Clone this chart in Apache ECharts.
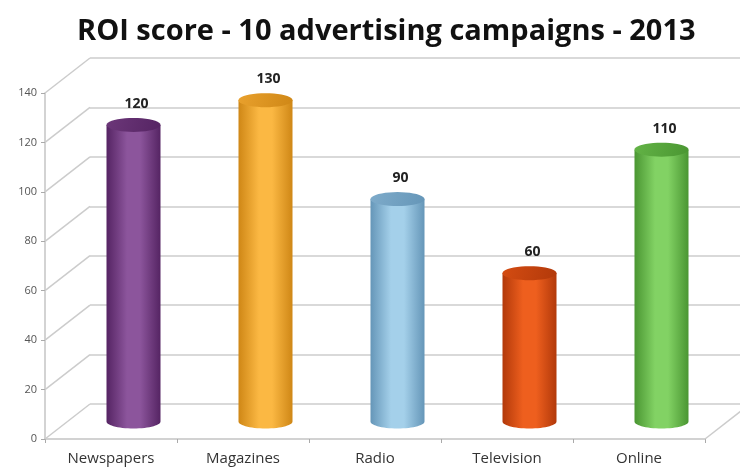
<!DOCTYPE html>
<html>
<head>
<meta charset="utf-8">
<script src="https://cdn.jsdelivr.net/npm/echarts@6/dist/echarts.min.js"></script>
<style>
  html, body { margin: 0; padding: 0; background: #fff; }
  #main { width: 740px; height: 468px; }
</style>
</head>
<body>
<div id="main"></div>
<script>
// data
var categories = ['Newspapers', 'Magazines', 'Radio', 'Television', 'Online'];
var scores = [120, 130, 90, 60, 110];
var yTicks = [0, 20, 40, 60, 80, 100, 120, 140];

// cylinder colours: [dark edge, light centre, top]
var barColors = [
  ['#552463', '#8c559c', '#6c3779'],
  ['#cf8716', '#fbb843', '#e9a12d'],
  ['#6596b8', '#a4d0ea', '#7eabca'],
  ['#b2390a', '#ee5f1e', '#d44c12'],
  ['#4a9632', '#82d264', '#63b346']
];

// 3d depth of the box (pixels)
var DX = 45, DY = 35;

var chart = echarts.init(document.getElementById('main'));

function ellipsePts(cx, cy, rx, ry, from, to, n) {
  var pts = [];
  for (var i = 0; i <= n; i++) {
    var a = from + (to - from) * i / n;
    pts.push([cx + rx * Math.cos(a), cy + ry * Math.sin(a)]);
  }
  return pts;
}

// edges: [category index, value, side (-1 left, 1 right)]
var edges = yTicks.map(function (v) { return [0, v, -1]; })
  .concat([[categories.length - 1, 0, 1]]);

var option = {
  backgroundColor: '#fff',
  animation: false,
  title: {
    text: 'ROI score - 10 advertising campaigns - 2013',
    left: 72,
    top: 12,
    textStyle: { fontFamily: 'Open Sans', fontSize: 29, fontWeight: 'bold', color: '#111' }
  },
  grid: [
    { left: 45, right: 35, top: 93, bottom: 29 },
    { left: 45 + DX, right: 0, top: 93 - DY, bottom: 29 + DY }
  ],
  xAxis: [
    {
      type: 'category', gridIndex: 0, data: categories,
      axisLine: { lineStyle: { color: '#c4c4c4', width: 1.5 } },
      axisTick: { show: true, length: 4, lineStyle: { color: '#aaa' } },
      axisLabel: { fontFamily: 'Open Sans', fontSize: 15, color: '#333', margin: 12 }
    },
    { type: 'category', gridIndex: 1, data: categories, show: false }
  ],
  yAxis: [
    {
      type: 'value', gridIndex: 0, min: 0, max: 140, interval: 20,
      axisLine: { show: true, lineStyle: { color: '#c4c4c4', width: 1.5 } },
      axisTick: { show: true, length: 4, lineStyle: { color: '#aaa' } },
      splitLine: { show: false },
      axisLabel: { fontFamily: 'Open Sans', fontSize: 11, color: '#555', margin: 8 }
    },
    {
      type: 'value', gridIndex: 1, min: 0, max: 140, interval: 20,
      axisLine: { show: false }, axisTick: { show: false }, axisLabel: { show: false },
      splitLine: { show: true, lineStyle: { color: '#cccccc', width: 1.5 } }
    }
  ],
  series: [
    {
      // diagonal edges from the front axes to the back wall
      type: 'custom', xAxisIndex: 0, yAxisIndex: 0, silent: true, z: 1,
      data: edges,
      dimensions: ['cat', 'val', 'side'],
      encode: { x: 0, y: 1 },
      renderItem: function (params, api) {
        var p = api.coord([api.value(0), api.value(1)]);
        var half = api.size([1, 0])[0] / 2;
        var x = p[0] + api.value(2) * half;
        return {
          type: 'line',
          shape: { x1: x, y1: p[1], x2: x + DX, y2: p[1] - DY },
          style: { stroke: '#cccccc', lineWidth: 1.5 }
        };
      }
    },
    {
      // cylinders
      type: 'custom', xAxisIndex: 0, yAxisIndex: 0, z: 5,
      data: scores.map(function (v, i) { return [i, v]; }),
      encode: { x: 0, y: 1 },
      renderItem: function (params, api) {
        var idx = api.value(0);
        var top = api.coord([idx, api.value(1)]);
        var base = api.coord([idx, 0]);
        var cx = top[0] + DX / 2;
        var ty = top[1] - DY / 2;
        var by = base[1] - DY / 2;
        var rx = 27, ry = 7;
        var c = barColors[idx];
        var body = [[cx - rx, ty]].concat(ellipsePts(cx, by, rx, ry, Math.PI, 0, 30)).concat([[cx + rx, ty]]);
        return {
          type: 'group',
          children: [
            {
              type: 'polygon',
              shape: { points: body },
              style: {
                fill: new echarts.graphic.LinearGradient(0, 0, 1, 0, [
                  { offset: 0, color: c[0] },
                  { offset: 0.38, color: c[1] },
                  { offset: 0.62, color: c[1] },
                  { offset: 1, color: c[0] }
                ])
              }
            },
            {
              type: 'polygon',
              shape: { points: ellipsePts(cx, ty, rx, ry, 0, Math.PI * 2, 40) },
              style: {
                fill: new echarts.graphic.LinearGradient(0, 0, 1, 1, [
                  { offset: 0, color: c[2] },
                  { offset: 1, color: c[0] }
                ])
              }
            },
            {
              type: 'text',
              x: cx + 3, y: ty - ry - 14,
              style: {
                text: String(api.value(1)),
                fontFamily: 'Open Sans', fontSize: 14, fontWeight: 'bold',
                fill: '#222', align: 'center', verticalAlign: 'middle'
              }
            }
          ]
        };
      }
    }
  ]
};

chart.setOption(option);
</script>
</body>
</html>
